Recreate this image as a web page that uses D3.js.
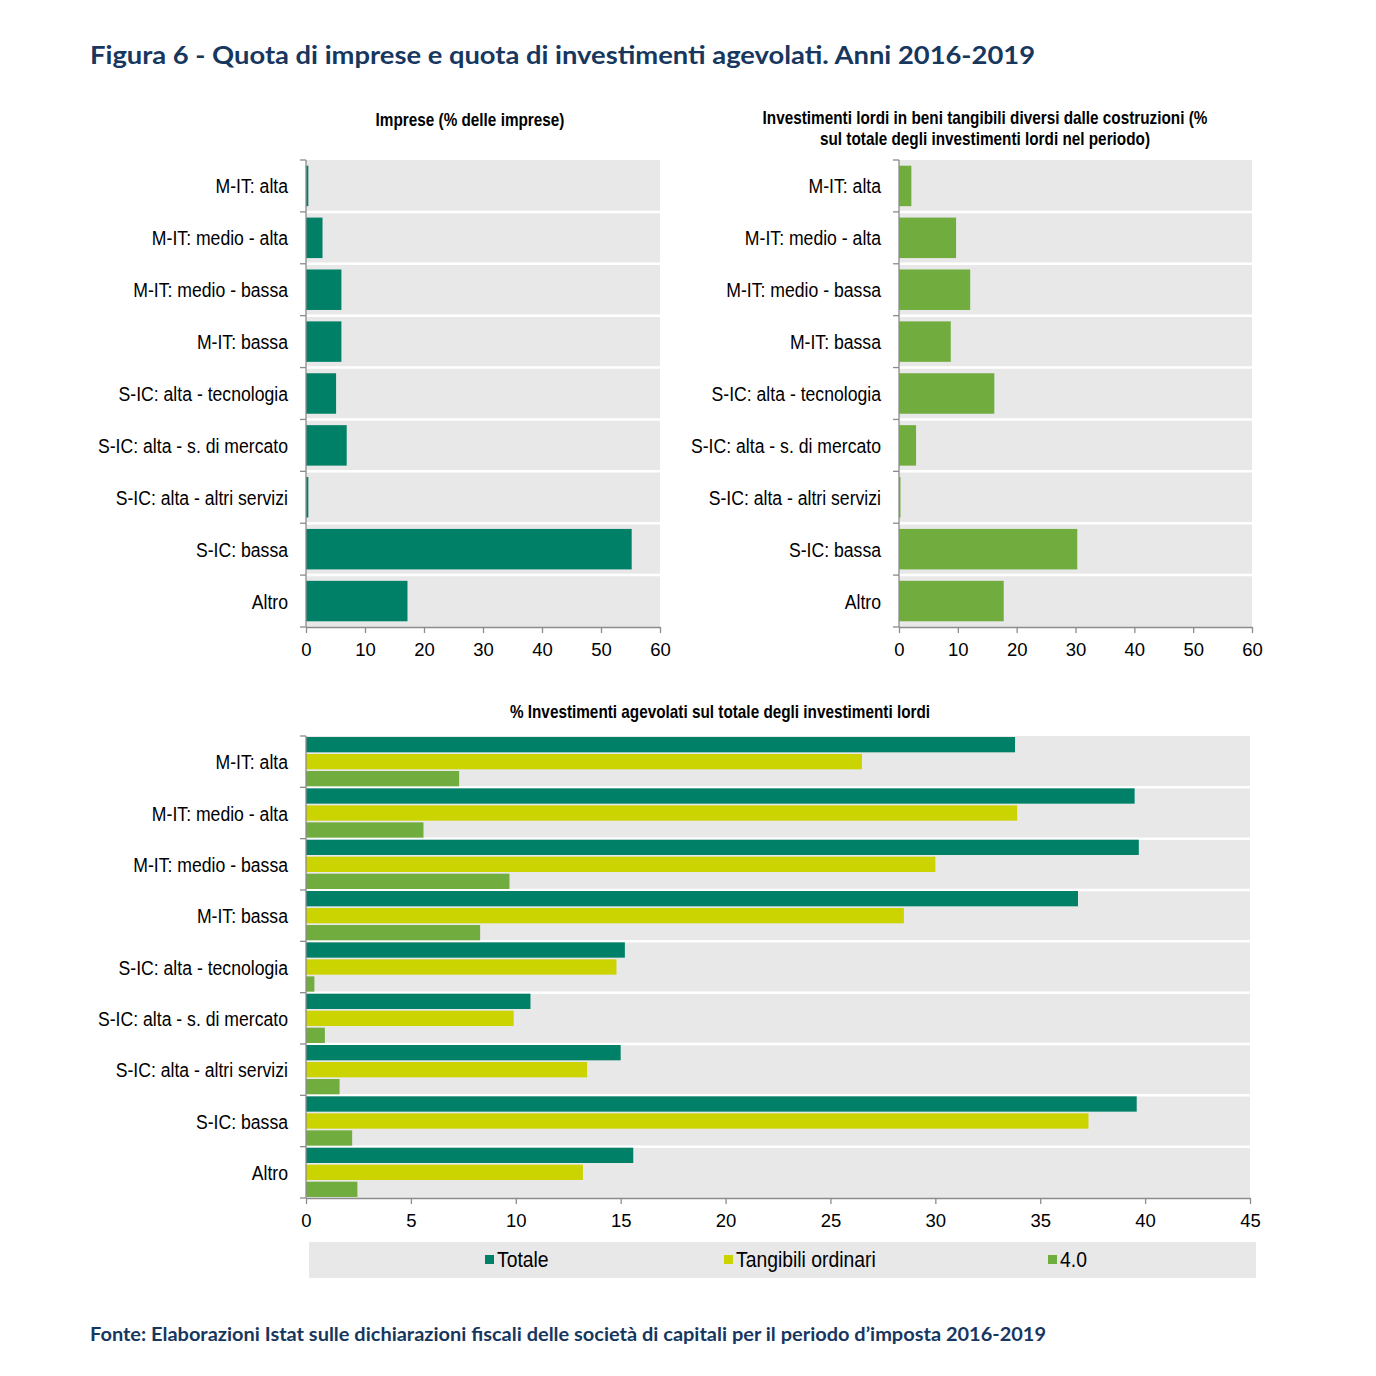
<!DOCTYPE html>
<html><head><meta charset="utf-8">
<script src="https://cdn.jsdelivr.net/npm/d3@7/dist/d3.min.js"></script>
<style>
body{margin:0;background:#fff;}
svg{display:block;}
.lab{font-family:"Liberation Sans",Arial,sans-serif;}
.ttl{font-family:Lato,"Open Sans",sans-serif;font-weight:700;fill:#17375e;}
</style></head>
<body>
<script>
const categories = ["M-IT: alta","M-IT: medio - alta","M-IT: medio - bassa","M-IT: bassa","S-IC: alta - tecnologia","S-IC: alta - s. di mercato","S-IC: alta - altri servizi","S-IC: bassa","Altro"];
const imprese = [0.4,2.8,6.0,6.0,5.1,6.9,0.4,55.2,17.2];
const investimenti = [2.1,9.7,12.1,8.8,16.2,2.9,0.1,30.3,17.8];
const seriesNames = ["Totale","Tangibili ordinari","4.0"];
const totale = [33.8,39.5,39.7,36.8,15.2,10.7,15.0,39.6,15.6];
const tangibili = [26.5,33.9,30.0,28.5,14.8,9.9,13.4,37.3,13.2];
const quattro = [7.3,5.6,9.7,8.3,0.4,0.9,1.6,2.2,2.45];
const topTicks = [0,10,20,30,40,50,60];
const bottomTicks = [0,5,10,15,20,25,30,35,40,45];
const colors = {"Totale":"#008066","Tangibili ordinari":"#cbd300","4.0":"#70ad3e"};

const W=1376,H=1376;
const NARROW=0.84;
const svg=d3.select("body").append("svg").attr("width",W).attr("height",H);

svg.append("text").attr("class","ttl").attr("x",90).attr("y",64).attr("font-size",24.5)
  .attr("textLength",945).attr("lengthAdjust","spacingAndGlyphs")
  .text("Figura 6 - Quota di imprese e quota di investimenti agevolati. Anni 2016-2019");
svg.append("text").attr("class","ttl").attr("x",90).attr("y",1341).attr("font-size",18)
  .attr("textLength",956).attr("lengthAdjust","spacingAndGlyphs")
  .text("Fonte: Elaborazioni Istat sulle dichiarazioni fiscali delle società di capitali per il periodo d’imposta 2016-2019");

function ntext(g,x,y,txt,size,anchor,bold,sx){
  return g.append("text").attr("class","lab")
    .attr("transform",`translate(${x},${y}) scale(${sx||NARROW},1)`)
    .attr("text-anchor",anchor).attr("font-size",size)
    .attr("font-weight",bold?700:400).attr("fill","#000").text(txt);
}

function frame(g,x,y){
  const [x0,x1]=x.range(); const [y0,y1]=y.range();
  g.append("rect").attr("x",x0).attr("y",y0).attr("width",x1-x0).attr("height",y1-y0).attr("fill","#e8e8e8");
  g.selectAll(".sep").data(categories.slice(1)).join("line")
    .attr("x1",x0).attr("x2",x1).attr("y1",d=>y(d)).attr("y2",d=>y(d))
    .attr("stroke","#fff").attr("stroke-width",2.5);
}
function axes(g,x,y,ticks){
  const [x0,x1]=x.range(); const [y0,y1]=y.range();
  const ya=g.append("g");
  ya.append("line").attr("x1",x0).attr("x2",x0).attr("y1",y0).attr("y2",y1).attr("stroke","#8c8c8c").attr("stroke-width",1.3);
  ya.selectAll(".tk").data(categories.concat(["_end"])).join("line")
    .attr("x1",x0-6).attr("x2",x0)
    .attr("y1",d=>d==="_end"?y1:y(d)).attr("y2",d=>d==="_end"?y1:y(d))
    .attr("stroke","#8c8c8c").attr("stroke-width",1.3);
  categories.forEach(c=>{
    ntext(ya,x0-18,y(c)+y.bandwidth()/2+7.5,c,21,"end",false);
  });
  const xa=g.append("g").attr("transform",`translate(0,${y1})`)
    .call(d3.axisBottom(x).tickValues(ticks).tickSize(6).tickSizeOuter(0).tickPadding(10));
  xa.select(".domain").attr("stroke","#8c8c8c").attr("stroke-width",1.3);
  xa.selectAll(".tick line").attr("stroke","#8c8c8c").attr("stroke-width",1.3);
  xa.selectAll(".tick text").attr("class","lab").attr("font-size",18.5).attr("fill","#000");
}

function single(x0,x1,values,color,titleLines,titleX){
  const g=svg.append("g");
  const x=d3.scaleLinear().domain([0,60]).range([x0,x1]);
  const y=d3.scaleBand().domain(categories).range([160,627]).paddingInner(0).paddingOuter(0);
  frame(g,x,y);
  g.selectAll(".bar").data(values).join("rect")
    .attr("x",x(0)).attr("y",(d,i)=>y(categories[i])+y.bandwidth()*0.11)
    .attr("width",d=>Math.max(1.5,x(d)-x(0))).attr("height",y.bandwidth()*0.78)
    .attr("fill",color);
  axes(g,x,y,topTicks);
  const base = titleLines.length>1 ? 124 : 126;
  titleLines.forEach((t,i)=>ntext(g,titleX,base+i*21,t,17.5,"middle",true,0.875));
}
single(306,660,imprese,"#008066",["Imprese (% delle imprese)"],470);
single(899,1252,investimenti,"#70ad3e",["Investimenti lordi in beni tangibili diversi dalle costruzioni (%","sul totale degli investimenti lordi nel periodo)"],985);

// bottom grouped chart
{
  const g=svg.append("g");
  const x=d3.scaleLinear().domain([0,45]).range([306,1250]);
  const y=d3.scaleBand().domain(categories).range([736,1198]).paddingInner(0).paddingOuter(0);
  const ys=d3.scaleBand().domain(seriesNames).range([0,y.bandwidth()]).paddingInner(0.1).paddingOuter(0.06);
  frame(g,x,y);
  const data=[totale,tangibili,quattro];
  seriesNames.forEach((s,si)=>{
    g.selectAll(".b"+si).data(data[si]).join("rect")
      .attr("x",x(0)).attr("y",(d,i)=>y(categories[i])+ys(s))
      .attr("width",d=>x(d)-x(0)).attr("height",ys.bandwidth())
      .attr("fill",colors[s]);
  });
  axes(g,x,y,bottomTicks);
  ntext(g,720,718,"% Investimenti agevolati sul totale degli investimenti lordi",17.5,"middle",true,0.875);
  // legend
  g.append("rect").attr("x",309).attr("y",1242).attr("width",947).attr("height",36).attr("fill","#e8e8e8");
  const legX=[485,724,1048];
  seriesNames.forEach((s,i)=>{
    g.append("rect").attr("x",legX[i]).attr("y",1255).attr("width",9).attr("height",9).attr("fill",colors[s]);
    ntext(g,legX[i]+12,1267,s,21.5,"start",false,0.9);
  });
}
</script>
</body></html>
